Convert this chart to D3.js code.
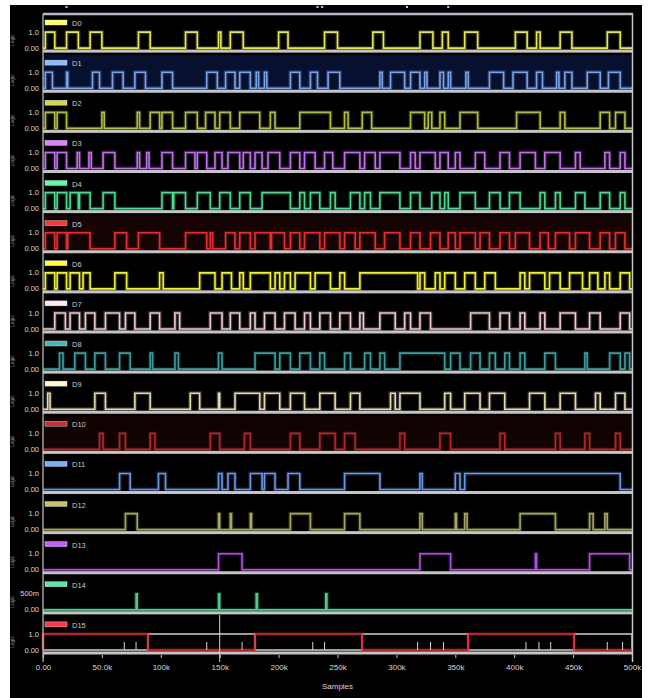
<!DOCTYPE html>
<html><head><meta charset="utf-8">
<script src="https://cdn.jsdelivr.net/npm/d3@7"></script>
<style>body{margin:0;background:#fff;}svg{display:block}</style>
</head><body><svg id="c" width="649" height="698"></svg>
<script>
// ---------- DATA ----------
const channelNames = ["D0","D1","D2","D3","D4","D5","D6","D7","D8","D9","D10","D11","D12","D13","D14","D15"];
const xTicks = [0,50,100,150,200,250,300,350,400,450,500];
const xTickLabels = ["0.00","50.0k","100k","150k","200k","250k","300k","350k","400k","450k","500k"];
const xTitle = "Samples";
const yHighLabels = ["1.0","1.0","1.0","1.0","1.0","1.0","1.0","1.0","1.0","1.0","1.0","1.0","1.0","1.0","500m","1.0"];
const yLowLabel = "0.00";
// high intervals [start, end] in samples (k)
const ch0 = [[2,10],[20,30],[40,50],[81,91],[121,131],[149,151],[159,170],[200,208],[239,250],[280,289],[320,331],[339,344],[358,369],[401,411],[419,422],[439,449],[479,490]];
const ch1 = [[2,8],[20,21],[42,48],[59,68],[78,87],[101,110],[139,148],[155,163],[167,176],[181,183],[188,190],[210,218],[227,233],[242,252],[286,288],[295,307],[312,320],[324,326],[337,340],[344,346],[359,361],[379,391],[399,411],[419,424],[436,438],[443,449],[462,473],[480,490]];
const ch2 = [[2,10],[12,20],[50,52],[80,82],[91,99],[101,110],[121,131],[138,146],[150,159],[167,184],[193,197],[218,244],[256,259],[271,279],[312,324],[327,330],[337,341],[354,369],[402,422],[439,443],[473,481],[486,494]];
const ch3 = [[2,10],[12,20],[29,31],[39,41],[51,61],[80,82],[88,90],[101,110],[121,129],[131,139],[146,152],[157,167],[170,176],[180,186],[191,201],[210,218],[222,231],[239,246],[256,269],[273,282],[286,303],[312,316],[320,333],[337,344],[350,354],[367,375],[388,396],[405,418],[426,439],[452,456],[477,481],[490,494]];
const ch4 = [[2,10],[12,20],[23,30],[31,40],[51,61],[101,110],[111,121],[131,142],[150,159],[167,176],[186,210],[218,222],[227,235],[244,248],[261,269],[273,278],[286,303],[312,320],[330,337],[341,344],[354,367],[379,388],[396,405],[422,426],[435,439],[452,460],[473,481],[490,494]];
const ch5 = [[2,10],[12,20],[21,40],[61,71],[81,99],[121,139],[142,144],[155,163],[167,176],[180,193],[194,205],[210,218],[222,235],[239,252],[256,265],[269,282],[290,303],[312,320],[329,337],[344,350],[354,367],[371,379],[388,396],[401,413],[422,429],[435,447],[452,464],[473,481],[486,494]];
const ch6 = [[2,10],[12,20],[23,31],[34,40],[61,71],[99,102],[133,146],[152,160],[167,170],[176,193],[197,201],[205,210],[214,227],[231,244],[252,256],[269,318],[320,324],[333,337],[341,350],[358,367],[375,384],[405,409],[413,426],[430,439],[447,458],[464,471],[477,481],[490,498]];
const ch7 = [[10,19],[23,31],[36,44],[53,65],[70,78],[91,99],[112,116],[142,152],[159,167],[176,180],[188,197],[205,214],[222,227],[235,244],[252,261],[269,272],[286,299],[307,312],[320,329],[363,379],[388,396],[405,409],[422,426],[439,452],[464,473],[490,498]];
const ch8 = [[14,17],[27,36],[44,53],[65,74],[91,93],[112,115],[149,152],[180,197],[201,210],[218,227],[235,239],[256,261],[273,278],[286,290],[303,341],[346,354],[363,371],[379,384],[392,396],[405,409],[426,435],[460,462],[481,490],[494,498]];
const ch9 = [[4,6],[44,53],[78,91],[125,133],[149,150],[163,184],[188,201],[210,222],[235,248],[261,269],[295,299],[303,320],[341,346],[358,371],[379,392],[413,426],[439,452],[469,473],[486,494]];
const ch10 = [[48,51],[65,70],[91,95],[142,150],[171,176],[210,218],[235,248],[256,265],[303,307],[337,346],[388,392],[435,439],[460,464],[486,490]];
const ch11 = [[65,74],[98,104],[149,152],[157,163],[176,186],[188,197],[208,218],[256,286],[320,322],[350,354],[358,490]];
const ch12 = [[70,80],[149,150],[159,160],[176,177],[210,227],[256,269],[320,322],[350,351],[358,360],[405,435],[464,467],[477,479]];
const ch13 = [[149,169],[320,346],[418,419],[464,498]];
const ch14 = [[79,80],[149,150],[181,182],[240,241]];
const ch15 = [[0,89],[180,271],[361,451]];
const ch15Glitches = [69,79,139,169,229,239,318,329,340,410,421,431,479,492];
const topMarks = [20,233,237,309,344];
const channels = [ch0,ch1,ch2,ch3,ch4,ch5,ch6,ch7,ch8,ch9,ch10,ch11,ch12,ch13,ch14,ch15];

// ---------- STYLE ----------
const colors = ["#e6e65a","#7aa2e6","#b4bc48","#c070ea","#50d890","#e03030","#f0f032","#f0c8d8",
                "#3c9ea0","#e8d8b0","#b02828","#6a98e8","#a8a860","#b050e0","#50c890","#e03040"];
const tints = [null,"#07102e",null,null,null,"#160303",null,null,null,null,"#120303",null,null,null,null,null];

const svg = d3.select("#c");
svg.append("rect").attr("x",10).attr("y",5).attr("width",632).attr("height",693).attr("fill","#000");

const x = d3.scaleLinear().domain([0,500]).range([43,632]);
const band = d3.scaleBand().domain(d3.range(16)).range([13,655]);
const bw = band.bandwidth();
const font = "Liberation Sans, Arial, sans-serif";

function stepPoints(iv){
  const pts=[[0,0]];
  iv.forEach(([s,e])=>{pts.push([s,0],[s,1],[e,1],[e,0]);});
  pts.push([500,0]);
  return pts;
}
function complement(iv){
  const out=[];let t=0;
  iv.forEach(([s,e])=>{ if(s>t) out.push([t,s]); t=e; });
  if(t<500) out.push([t,500]);
  return out;
}

channels.forEach((iv,k)=>{
  const top = band(k), sep = top+bw-2;
  const y = d3.scaleLinear().domain([0,1]).range([sep-3,sep-19]);
  const g = svg.append("g");
  if(tints[k]) g.append("rect").attr("x",x(0)).attr("y",top+2).attr("width",x(500)-x(0)).attr("height",bw-4).attr("fill",tints[k]);
  const line = d3.line().x(d=>x(d[0])).y(d=>y(d[1]));
  if(k===15){
    g.append("path").attr("d",line(stepPoints(complement(iv)))).attr("fill","none").attr("stroke","#cfcfcf").attr("stroke-width",1.4);
  }
  g.append("path").attr("d",line(stepPoints(iv))).attr("fill","none").attr("stroke",colors[k]).attr("stroke-width",4).attr("stroke-opacity",0.22);
  g.append("path").attr("d",line(stepPoints(iv))).attr("fill","none").attr("stroke",colors[k]).attr("stroke-width",1.6);
  if(k===15){
    g.selectAll("line.gl").data(ch15Glitches).enter().append("line")
      .attr("x1",d=>x(d)).attr("x2",d=>x(d)).attr("y1",y(0)).attr("y2",y(0)-8)
      .attr("stroke","#d8d8d8").attr("stroke-width",1);
  }
  // separator
  g.append("rect").attr("x",x(0)).attr("y",sep-1.5).attr("width",x(500)-x(0)+1).attr("height",3).attr("fill","#c4c4c4");
  // legend
  g.append("rect").attr("x",45).attr("y",top+7).attr("width",22).attr("height",5)
    .attr("fill",d3.color(colors[k]).brighter(0.4)).attr("stroke","#e0e0e0").attr("stroke-width",0.4);
  g.append("text").attr("x",72).attr("y",top+13).attr("font-family",font).attr("font-size",7.5)
    .attr("fill","#c8c8c8").text(channelNames[k]);
  // y labels
  g.append("text").attr("x",39).attr("y",y(1)+2.5).attr("text-anchor","end").attr("font-family",font)
    .attr("font-size",7.5).attr("fill","#d8d8d8").text(yHighLabels[k]);
  g.append("text").attr("x",39).attr("y",y(0)+2.5).attr("text-anchor","end").attr("font-family",font)
    .attr("font-size",7.5).attr("fill","#d8d8d8").text(yLowLabel);
  g.append("text").attr("transform",`translate(14,${(y(0)+y(1))/2}) rotate(-90)`).attr("text-anchor","middle")
    .attr("font-family",font).attr("font-size",5).attr("fill","#9a9a9a").text("Logic");
});

// frame
svg.append("line").attr("x1",x(0)).attr("x2",x(500)+1).attr("y1",14).attr("y2",14).attr("stroke","#b8b8c8").attr("stroke-width",2.5);
svg.append("line").attr("x1",x(0)).attr("x2",x(0)).attr("y1",14).attr("y2",662).attr("stroke","#c8c8c8").attr("stroke-width",1.2);
svg.append("line").attr("x1",x(500)+0.5).attr("x2",x(500)+0.5).attr("y1",14).attr("y2",662).attr("stroke","#c8c8c8").attr("stroke-width",1.5);
svg.append("line").attr("x1",x(150)).attr("x2",x(150)).attr("y1",615).attr("y2",662).attr("stroke","#d0d0d0").attr("stroke-width",1);

// top marks
svg.selectAll("rect.tm").data(topMarks).enter().append("rect")
  .attr("x",d=>x(d)-1).attr("y",6).attr("width",2).attr("height",2).attr("fill","#cccccc");

// x axis
const ax = svg.append("g").attr("transform","translate(0,655)")
  .call(d3.axisBottom(x).tickValues(xTicks).tickFormat((d,i)=>xTickLabels[i]).tickSize(3).tickPadding(6));
ax.select(".domain").remove();
ax.selectAll("line").attr("stroke","#c8c8c8");
ax.selectAll("text").attr("fill","#d8d8d8").attr("font-family",font).attr("font-size",8);
svg.append("text").attr("x",x(250)).attr("y",689).attr("text-anchor","middle").attr("font-family",font)
  .attr("font-size",8).attr("fill","#d8d8d8").text(xTitle);
</script></body></html>
